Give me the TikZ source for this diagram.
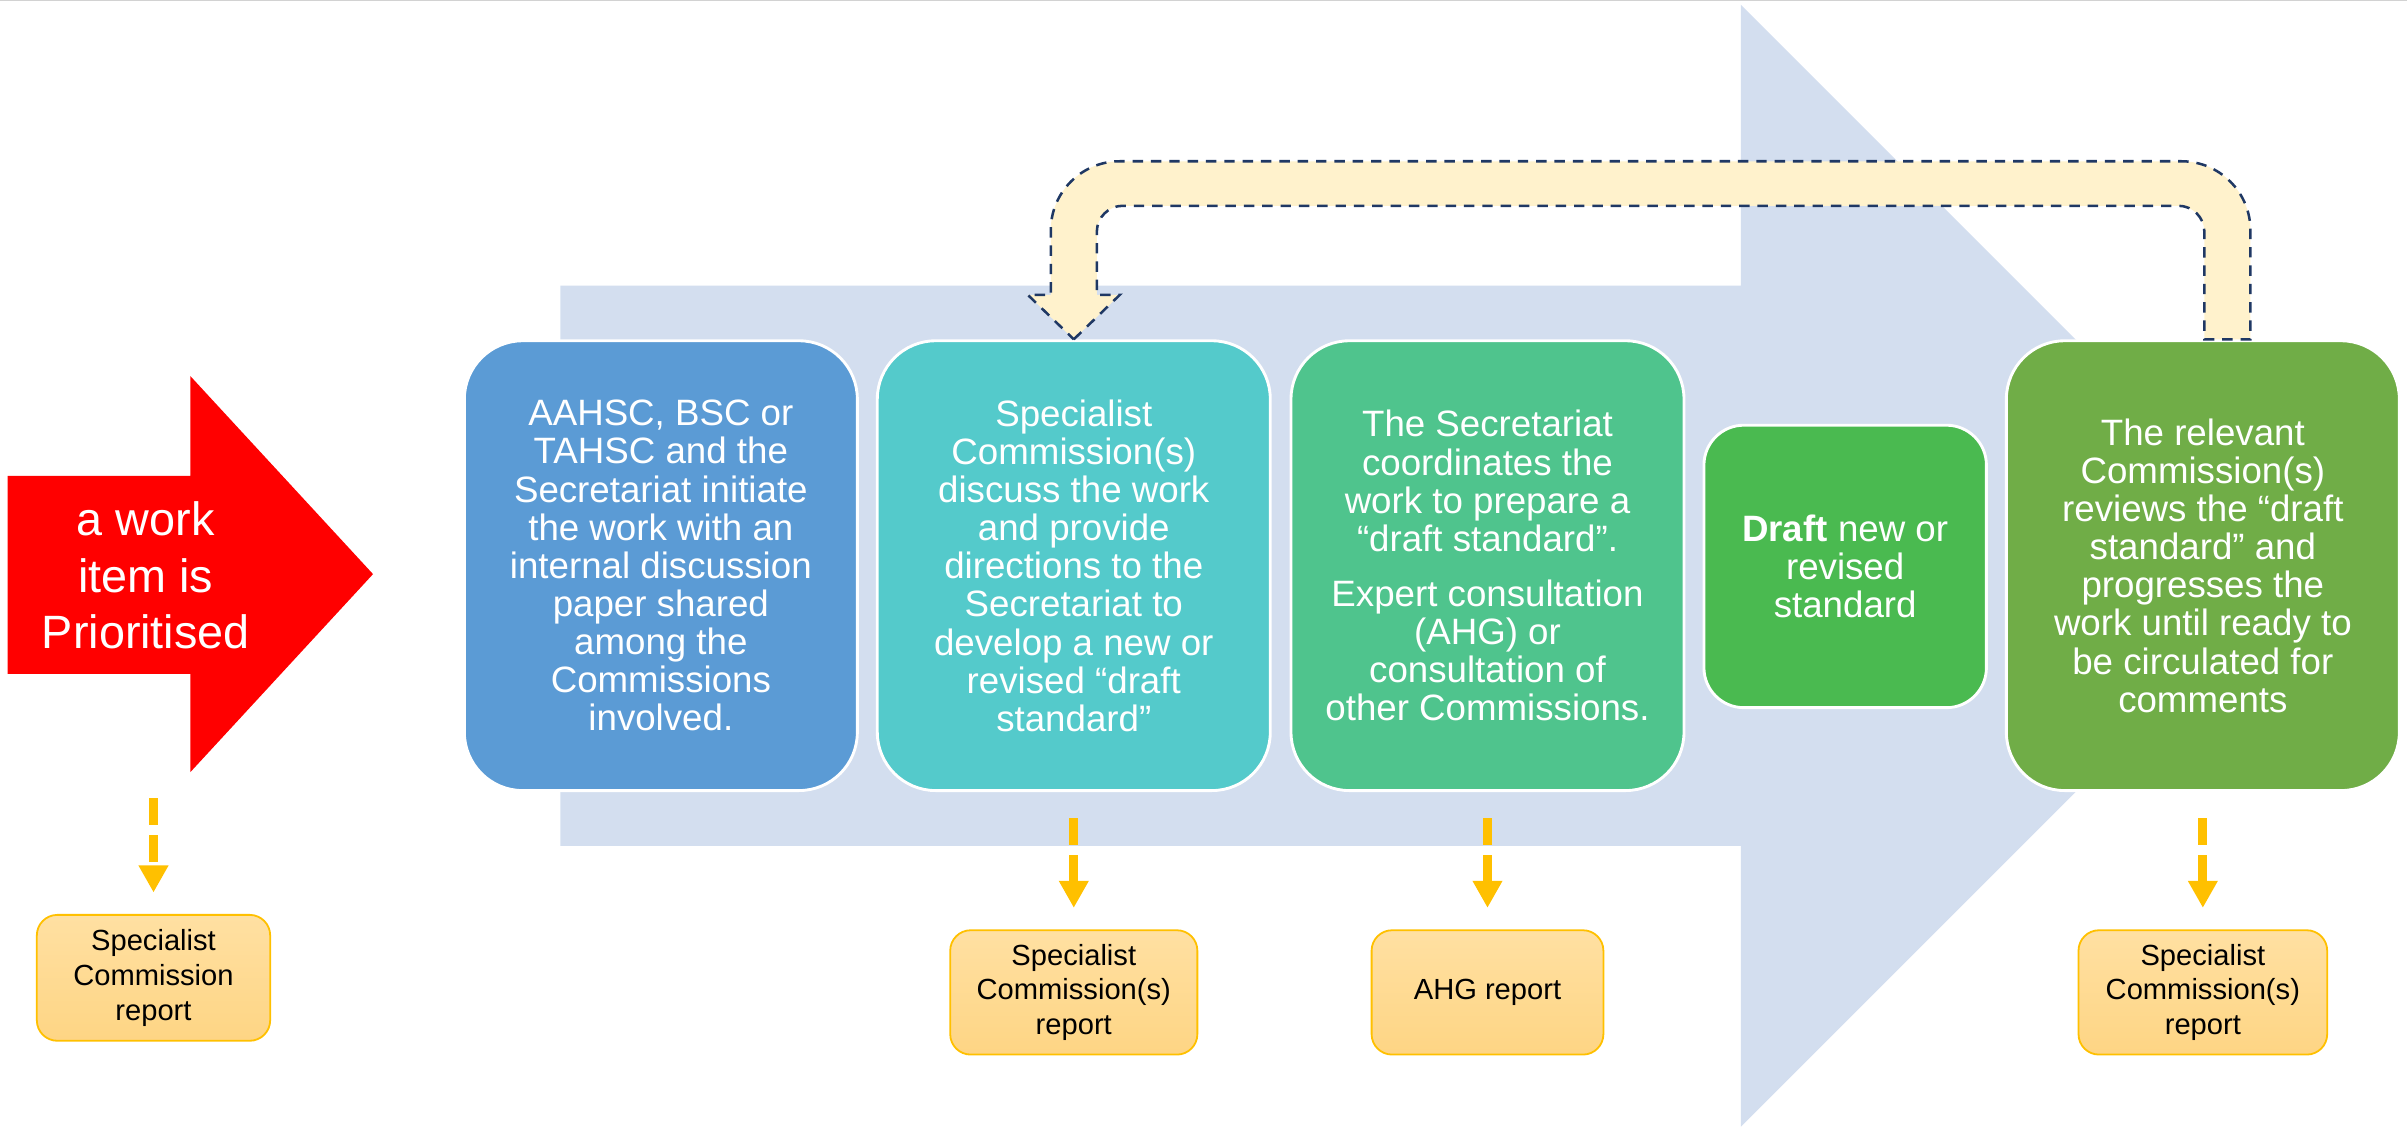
\documentclass[tikz,border=0pt]{standalone}
\usepackage{fontspec}
\setmainfont{Liberation Sans}
\usetikzlibrary{arrows.meta}
\definecolor{bgblue}{RGB}{211,222,239}
\definecolor{stepA}{RGB}{91,155,213}
\definecolor{stepB}{RGB}{84,202,203}
\definecolor{stepC}{RGB}{79,196,141}
\definecolor{stepD}{RGB}{74,186,80}
\definecolor{stepE}{RGB}{112,173,71}
\definecolor{loopfill}{RGB}{255,242,204}
\definecolor{loopline}{RGB}{31,56,100}
\definecolor{amber}{RGB}{255,192,0}
\definecolor{reptop}{RGB}{255,224,162}
\definecolor{repbot}{RGB}{254,213,132}
\begin{document}
\begin{tikzpicture}[x=0.015cm,y=0.015cm,
  stage/.style={draw=white,line width=0.8pt,rounded corners=0.57cm,text=white,align=center,minimum width=3.84cm,minimum height=4.395cm,inner sep=0pt,font=\fontsize{10.2}{10.6}\selectfont},
  report/.style={draw=amber,line width=0.5pt,top color=reptop,bottom color=repbot,rounded corners=0.2cm,align=center,minimum height=1.215cm,inner sep=0pt,font=\fontsize{8.1}{9.7}\selectfont},
  reparrow/.style={amber,line width=2.47pt,dash pattern=on 0.264cm off 0.0975cm,-{Triangle[width=0.274cm,length=0.264cm]},shorten <=0.255cm,shorten >=0.21cm},
  fbloop/.style={fill=loopfill,draw=loopline,line width=0.7pt,dash pattern=on 2.9pt off 2.2pt}]
\useasboundingbox (0,0) rectangle (1568,734);
\draw[gray!35,line width=0.5pt] (0,733.7) -- (1568,733.7);

\fill[bgblue] (365,183) -- (1134,183) -- (1134,0) -- (1499.5,365.5) -- (1134,731) -- (1134,548) -- (365,548) -- cycle;

\fill[red] (5,295) -- (124,295) -- (124,231) -- (243,360) -- (124,489) -- (124,424) -- (5,424) -- cycle;
\node[text=white,align=center,font=\fontsize{13}{15.7}\selectfont] (prio) at (95,359) {a work\\item is\\Prioritised};
\coordinate (prio-base) at (100,231);

\node[stage,fill=stepA] (b1) at (430.5,365.5) {AAHSC, BSC or\\TAHSC and the\\Secretariat initiate\\the work with an\\internal discussion\\paper shared\\among the\\Commissions\\involved.};
\node[stage,fill=stepB] (b2) at (699.5,365.5) {Specialist\\Commission(s)\\discuss the work\\and provide\\directions to the\\Secretariat to\\develop a new or\\revised “draft\\standard”};
\node[stage,fill=stepC] (b3) at (969,365.5) {The Secretariat\\coordinates the\\work to prepare a\\“draft standard”.\\[4.7pt]Expert consultation\\(AHG) or\\consultation of\\other Commissions.};
\node[stage,fill=stepD,minimum width=2.76cm,minimum height=2.76cm,rounded corners=0.39cm] (b4) at (1202,365) {\textbf{Draft} new or\\revised\\standard};
\node[stage,fill=stepE] (b5) at (1435,365.5) {The relevant\\Commission(s)\\reviews the “draft\\standard” and\\progresses the\\work until ready to\\be circulated for\\comments};

\draw[fbloop] (b2.north) -- ++(30,29) -- ++(-15,0) -- ++(0,41) arc[start angle=180,end angle=90,radius=17]
  -- ++(687.5,0) arc[start angle=90,end angle=0,radius=17] -- ++(0,-70) -- ++(30,0) -- ++(0,71)
  arc[start angle=0,end angle=90,radius=45] -- ++(-691.5,0) arc[start angle=90,end angle=180,radius=45]
  -- ++(0,-42) -- ++(-15,0) -- cycle;

\node[report,minimum width=2.28cm,minimum height=1.23cm] (r1) at (100,97) {Specialist\\Commission\\report};
\node[report,minimum width=2.415cm] (r2) at (699.5,87.5) {Specialist\\Commission(s)\\report};
\node[report,minimum width=2.265cm] (r3) at (969,87.5) {AHG report};
\node[report,minimum width=2.43cm] (r4) at (1435,87.5) {Specialist\\Commission(s)\\report};

\draw[reparrow] (prio-base) -- (r1.north);
\draw[reparrow] (b2.south) -- (r2.north);
\draw[reparrow] (b3.south) -- (r3.north);
\draw[reparrow] (b5.south) -- (r4.north);
\end{tikzpicture}
\end{document}
